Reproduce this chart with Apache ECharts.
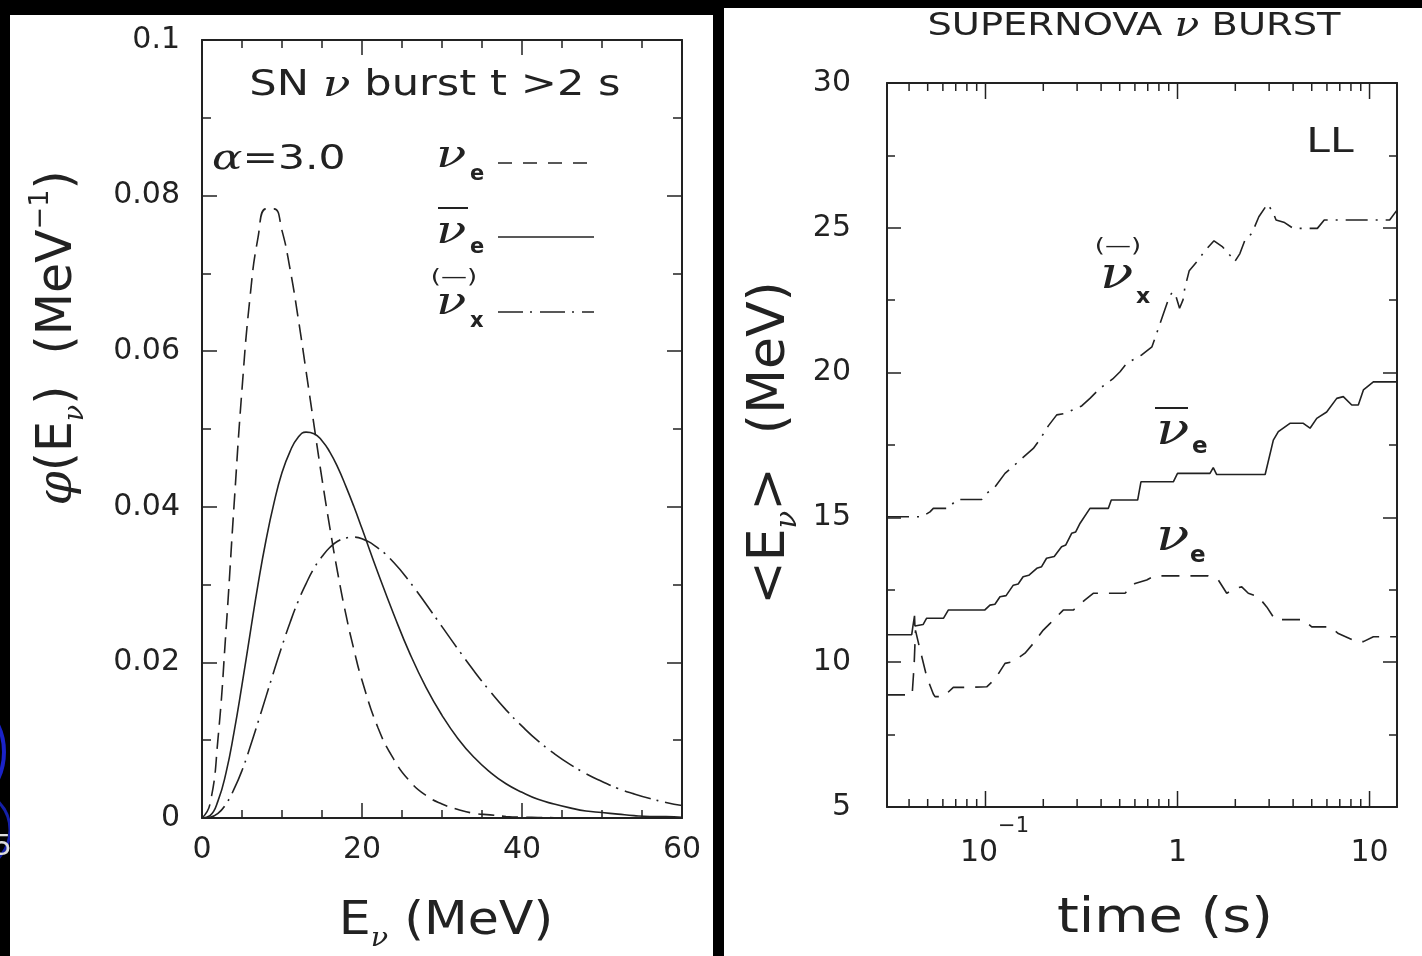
<!DOCTYPE html>
<html><head><meta charset="utf-8">
<script src="https://cdn.jsdelivr.net/npm/echarts@6/dist/echarts.min.js"></script>
<style>html,body{margin:0;padding:0;background:#000;}#c{width:1422px;height:956px;}</style>
</head><body><div id="c"></div>
<script>
// ---------- Left panel: spectra phi(E) for alpha = 3 ----------
const energies = [0,1,2,3,4,5,6,7,8,9,10,11,12,13,14,15,16,17,18,19,20,22,24,26,28,30,32,34,36,38,40,42,44,46,48,50,52,54,56,58,60];
const phiNuE = [0,0.0018,0.0102,0.0241,0.0401,0.0551,0.0669,0.0746,0.0783,0.0783,0.0755,0.0706,0.0644,0.0575,0.0505,0.0436,0.0372,0.0313,0.0261,0.0216,0.0177,0.0116,0.0075,0.0047,0.0029,0.0018,0.0011,0.0006,0.0004,0.0002,0.0001,0.00007,0.00004,0.00002,0.00001,0,0,0,0,0,0];
const phiNuEbar = [0,0.0003,0.0022,0.0058,0.0110,0.0171,0.0236,0.0300,0.0357,0.0405,0.0444,0.0471,0.0489,0.0496,0.0494,0.0485,0.0470,0.0450,0.0426,0.0400,0.0372,0.0315,0.0261,0.0211,0.0168,0.0132,0.0102,0.0078,0.0059,0.0044,0.0033,0.0024,0.0018,0.0013,0.0009,0.0007,0.0005,0.0003,0.0002,0.0002,0.0001];
const phiNuX = [0,0.0001,0.0006,0.0018,0.0037,0.0061,0.0091,0.0123,0.0156,0.0189,0.0221,0.0251,0.0278,0.0301,0.0321,0.0336,0.0348,0.0356,0.0360,0.0361,0.0359,0.0347,0.0328,0.0303,0.0275,0.0246,0.0217,0.0189,0.0163,0.0139,0.0118,0.0099,0.0083,0.0069,0.0057,0.0047,0.0038,0.0031,0.0025,0.0020,0.0016];

// ---------- Right panel: mean energies vs time [t (s), <E> (MeV)] ----------
const meanNuE = [[0.0307,8.87],[0.0415,8.87],[0.0425,9.9],[0.0432,11.1],[0.045,10.6],[0.0494,9.5],[0.0535,8.9],[0.0546,8.81],[0.0603,8.81],[0.068,9.13],[0.0798,9.13],[0.1015,9.15],[0.112,9.41],[0.1264,9.96],[0.1396,10.02],[0.1606,10.31],[0.1775,10.65],[0.2,11.11],[0.217,11.34],[0.254,11.8],[0.2866,11.8],[0.33,12.15],[0.364,12.38],[0.533,12.38],[0.601,12.72],[0.691,12.84],[0.76,12.98],[1.446,12.98],[1.631,12.84],[1.804,12.38],[2.0,12.55],[2.16,12.6],[2.337,12.38],[2.635,12.26],[2.915,11.91],[3.22,11.47],[4.52,11.47],[5.0,11.22],[6.22,11.22],[6.88,10.99],[8.58,10.71],[9.29,10.71],[10.47,10.88],[13.9,10.88]];
const meanNuEbar = [[0.0307,10.95],[0.0413,10.95],[0.0418,11.2],[0.0425,11.25],[0.0427,11.6],[0.0429,11.25],[0.0473,11.3],[0.0494,11.52],[0.0605,11.52],[0.064,11.8],[0.099,11.8],[0.1055,11.97],[0.112,12.0],[0.119,12.26],[0.128,12.3],[0.1396,12.66],[0.148,12.7],[0.157,12.95],[0.168,13.0],[0.185,13.24],[0.196,13.3],[0.208,13.59],[0.228,13.65],[0.249,13.99],[0.262,14.05],[0.281,14.45],[0.295,14.5],[0.311,14.8],[0.35,15.31],[0.436,15.31],[0.452,15.6],[0.62,15.6],[0.645,16.23],[0.951,16.23],[1.0,16.52],[1.476,16.52],[1.535,16.72],[1.6,16.48],[2.86,16.48],[3.155,17.67],[3.35,17.96],[3.85,18.25],[4.52,18.25],[4.9,18.08],[5.31,18.42],[5.98,18.64],[6.75,19.11],[7.3,19.17],[8.08,18.88],[8.74,18.88],[9.29,19.4],[10.47,19.68],[13.9,19.68]];
const meanNuX = [[0.0307,15.02],[0.0465,15.02],[0.0514,15.19],[0.0535,15.31],[0.064,15.31],[0.0708,15.62],[0.0955,15.62],[0.1015,15.83],[0.112,16.05],[0.1264,16.52],[0.1396,16.77],[0.157,17.07],[0.1775,17.38],[0.192,17.69],[0.2124,18.16],[0.235,18.54],[0.2596,18.59],[0.317,18.85],[0.35,19.11],[0.395,19.46],[0.46,19.78],[0.502,20.03],[0.544,20.32],[0.651,20.61],[0.736,20.89],[0.768,21.24],[0.834,21.93],[0.906,22.62],[0.944,22.79],[0.983,22.62],[1.025,22.22],[1.068,22.51],[1.091,22.91],[1.151,23.52],[1.26,23.83],[1.398,24.23],[1.549,24.55],[1.718,24.34],[1.905,24.0],[1.986,23.83],[2.113,24.11],[2.247,24.58],[2.44,24.81],[2.652,25.38],[2.94,25.82],[3.13,25.56],[3.26,25.27],[3.61,25.18],[4.005,24.98],[5.35,24.98],[5.81,25.27],[12.73,25.27],[13.9,25.61]];

// axis ranges and tick values
const eRange = [0, 60], eStep = 20;
const phiRange = [0, 0.1], phiStep = 0.02;
const tRange = [0.0307, 13.9];
const meanRange = [5, 30], meanStep = 5;
const logMajorTicks = [0.1, 1, 10];
const logMinorTicks = [0.04,0.05,0.06,0.07,0.08,0.09,0.2,0.3,0.4,0.5,0.6,0.7,0.8,0.9,2,3,4,5,6,7,8,9];

const FONT = "'DejaVu Sans', sans-serif";
const SERIF = "'DejaVu Serif', serif";
const INK = '#222';

const chart = echarts.init(document.getElementById('c'), null, {renderer:'canvas'});

const frameLine = {onZero:false, lineStyle:{color:INK, width:2}};
const tickStyle = {color:INK, width:1.5};

function linAxis(grid, pos, range, step, minorSplit, showLabel, labelSize, margin, tickLen, minorLen) {
  return {
    gridIndex: grid, type:'value', position: pos, min: range[0], max: range[1], interval: step,
    axisLine: frameLine,
    axisTick: {show:true, inside:true, length: tickLen, lineStyle: tickStyle},
    minorTick: {show:true, splitNumber: minorSplit, length: minorLen, lineStyle: tickStyle},
    axisLabel: {show: showLabel, fontSize: labelSize, fontFamily: FONT, color: INK, margin: margin},
    splitLine: {show:false}, minorSplitLine:{show:false}
  };
}
function logAxis(pos, showLabel) {
  return {
    gridIndex:1, type:'log', logBase:10, position: pos, min: tRange[0], max: tRange[1],
    axisLine: frameLine, axisTick:{show:false}, minorTick:{show:false},
    splitLine:{show:false}, minorSplitLine:{show:false},
    axisLabel: {
      show: showLabel, showMinLabel:false, showMaxLabel:false, margin: 9,
      formatter: function (v) {
        const l = Math.round(Math.log10(v));
        if (Math.abs(Math.log10(v) - l) > 1e-6) return '';
        if (l === -1) return '{mp|10}{s|−1}';
        if (l === 0) return '{m|1}';
        if (l === 1) return '{m|10}';
        return '';
      },
      rich: {
        m: {fontSize:30, fontFamily:FONT, color:INK, lineHeight:52, verticalAlign:'bottom'},
        mp: {fontSize:30, fontFamily:FONT, color:INK, lineHeight:52, verticalAlign:'bottom', padding:[0,0,0,18]},
        s: {fontSize:21, fontFamily:FONT, color:INK, lineHeight:22, verticalAlign:'top'}
      }
    }
  };
}
function logTickSeries(values, len) {
  return {
    type:'custom', xAxisIndex:2, yAxisIndex:2, silent:true, clip:false, z:5,
    data: values.map(v => [v, meanRange[0]]),
    encode: {x:0, y:1},
    renderItem: function (params, api) {
      const t = api.value(0);
      const pb = api.coord([t, meanRange[0]]);
      const pt = api.coord([t, meanRange[1]]);
      return {type:'group', children:[
        {type:'line', shape:{x1:pb[0], y1:pb[1], x2:pb[0], y2:pb[1]-len}, style:{stroke:INK, lineWidth:1.5}},
        {type:'line', shape:{x1:pt[0], y1:pt[1], x2:pt[0], y2:pt[1]+len}, style:{stroke:INK, lineWidth:1.5}}
      ]};
    }
  };
}

function txt(x, y, text, size, opts) {
  opts = opts || {};
  return {
    type:'text', x:x, y:y, z:50, scaleX: opts.sx || 1, scaleY: opts.sy || 1, rotation: opts.rot || 0,
    style: {
      text:text, fill: opts.fill || INK, fontSize:size, fontFamily: opts.family || FONT,
      fontStyle: opts.italic ? 'italic' : 'normal', fontWeight: opts.bold ? 'bold' : 'normal',
      align: opts.align || 'left', verticalAlign: opts.va || 'middle', rich: opts.rich
    }
  };
}
function seg(x1, y1, x2, y2, dash, w) {
  return {type:'line', z:50, shape:{x1:x1,y1:y1,x2:x2,y2:y2},
    style:{stroke:INK, lineWidth: w || 1.5, lineDash: dash || null}};
}
function nu(x, y, size) { return txt(x, y, 'ν', size, {family:SERIF, italic:true, sx:1.25}); }

const dashE = [16, 8];
const dashX = [27, 6, 2, 7];
const dashE2 = [18, 11];
const dashX2 = [22, 8, 2, 8];

const graphics = [
  // slide background remnants and white panels
  {type:'circle', z:-30, shape:{cx:-58, cy:752, r:62}, style:{fill:null, stroke:'#1a22c8', lineWidth:4}},
  {type:'circle', z:-30, shape:{cx:-30, cy:830, r:40}, style:{fill:null, stroke:'#1520a8', lineWidth:3}},
  {type:'text', z:-30, x:-6, y:848, style:{text:'5', fill:'#ddd', fontSize:28, fontFamily:FONT, verticalAlign:'middle'}},
  {type:'rect', z:-20, shape:{x:10, y:15, width:703, height:941}, style:{fill:'#fff'}},
  {type:'rect', z:-20, shape:{x:724, y:8, width:698, height:948}, style:{fill:'#fff'}},

  // left panel annotations
  txt(435, 86, '{a|SN }{n|ν}{a| burst t >2 s}', 36, {align:'center', sx:1.2, rich:{
    a:{fontSize:36, fontFamily:FONT, fill:INK}, n:{fontSize:38, fontFamily:SERIF, fontStyle:'italic', fill:INK}}}),
  txt(212, 160, '{n|α}{a|=3.0}', 34, {sx:1.25, rich:{
    a:{fontSize:34, fontFamily:FONT, fill:INK}, n:{fontSize:36, fontFamily:SERIF, fontStyle:'italic', fill:INK}}}),
  // legend
  nu(436, 157, 40),
  txt(470, 175, 'e', 21, {bold:true}),
  seg(498, 163, 594, 163, [14, 11]),
  seg(438, 208, 468, 208, null, 2),
  nu(436, 233, 40),
  txt(470, 248, 'e', 21, {bold:true}),
  seg(498, 237, 594, 237),
  txt(454, 278, '(—)', 20, {align:'center', sx:1.3}),
  nu(436, 304, 40),
  txt(470, 322, 'x', 21, {bold:true}),
  seg(498, 312, 594, 312, [25, 7, 2, 8]),
  // left axis titles
  txt(446, 922, '{a|E}{s|ν}{a| (MeV)}', 46, {align:'center', sx:1.1, rich:{
    a:{fontSize:46, fontFamily:FONT, fill:INK, lineHeight:60, verticalAlign:'middle'},
    s:{fontSize:26, fontFamily:SERIF, fontStyle:'italic', fill:INK, lineHeight:26, verticalAlign:'bottom'}}}),
  txt(58, 338, '{p|φ}{a|(E}{s|ν}{a|)  (MeV}{u|−1}{a|)}', 49, {align:'center', rot:Math.PI/2, rich:{
    p:{fontSize:49, fontFamily:SERIF, fontStyle:'italic', fill:INK, lineHeight:62, verticalAlign:'middle'},
    a:{fontSize:49, fontFamily:FONT, fill:INK, lineHeight:62, verticalAlign:'middle'},
    s:{fontSize:27, fontFamily:SERIF, fontStyle:'italic', fill:INK, lineHeight:27, verticalAlign:'bottom'},
    u:{fontSize:27, fontFamily:FONT, fill:INK, lineHeight:27, verticalAlign:'top'}}}),

  // right panel annotations
  txt(1134, 27, '{a|SUPERNOVA }{n|ν}{a| BURST}', 32, {align:'center', sx:1.2, rich:{
    a:{fontSize:32, fontFamily:FONT, fill:INK}, n:{fontSize:34, fontFamily:SERIF, fontStyle:'italic', fill:INK}}}),
  txt(1330, 143, 'LL', 34, {align:'center', sx:1.25}),
  txt(1118, 247, '(—)', 20, {align:'center', sx:1.3}),
  nu(1100, 277, 44),
  txt(1136, 297, 'x', 22, {bold:true}),
  seg(1155, 408, 1188, 408, null, 2),
  nu(1156, 433, 44),
  txt(1192, 447, 'e', 23, {bold:true}),
  nu(1156, 539, 44),
  txt(1190, 556, 'e', 23, {bold:true}),
  // right axis titles
  txt(1165, 920, 'time (s)', 48, {align:'center', sx:1.16}),
  txt(770, 443, '{a|<E}{s|ν}{a|>  (MeV)}', 52, {align:'center', rot:Math.PI/2, rich:{
    a:{fontSize:52, fontFamily:FONT, fill:INK, lineHeight:66, verticalAlign:'middle'},
    s:{fontSize:29, fontFamily:SERIF, fontStyle:'italic', fill:INK, lineHeight:29, verticalAlign:'bottom'}}})
];

function lineSeries(xi, data, dash, smooth) {
  return {type:'line', xAxisIndex:xi, yAxisIndex:xi, data:data, showSymbol:false, symbol:'none',
    smooth: smooth, silent:true, z:3,
    lineStyle:{color:INK, width:1.6, type:dash}};
}

const option = {
  backgroundColor:'#000',
  animation:false,
  grid: [
    {left:202, top:40, width:480, height:778, outerBoundsMode:'none', containLabel:false},
    {left:887, top:83, width:510, height:724, outerBoundsMode:'none', containLabel:false}
  ],
  xAxis: [
    linAxis(0, 'bottom', eRange, eStep, 4, true, 30, 17, 15, 8),
    linAxis(0, 'top', eRange, eStep, 4, false, 30, 17, 15, 8),
    logAxis('bottom', true),
    logAxis('top', false)
  ],
  yAxis: [
    linAxis(0, 'left', phiRange, phiStep, 2, true, 30, 22, 15, 9),
    linAxis(0, 'right', phiRange, phiStep, 2, false, 30, 22, 15, 9),
    linAxis(1, 'left', meanRange, meanStep, 2, true, 30, 36, 14, 8),
    linAxis(1, 'right', meanRange, meanStep, 2, false, 30, 36, 14, 8)
  ],
  series: [
    lineSeries(0, energies.map((e,i)=>[e, phiNuE[i]]), dashE, true),
    lineSeries(0, energies.map((e,i)=>[e, phiNuEbar[i]]), 'solid', true),
    lineSeries(0, energies.map((e,i)=>[e, phiNuX[i]]), dashX, true),
    lineSeries(2, meanNuE, dashE2, false),
    lineSeries(2, meanNuEbar, 'solid', false),
    lineSeries(2, meanNuX, dashX2, false),
    logTickSeries(logMajorTicks, 16),
    logTickSeries(logMinorTicks, 8)
  ],
  graphic: {elements: graphics}
};
chart.setOption(option);
</script>
</body></html>
